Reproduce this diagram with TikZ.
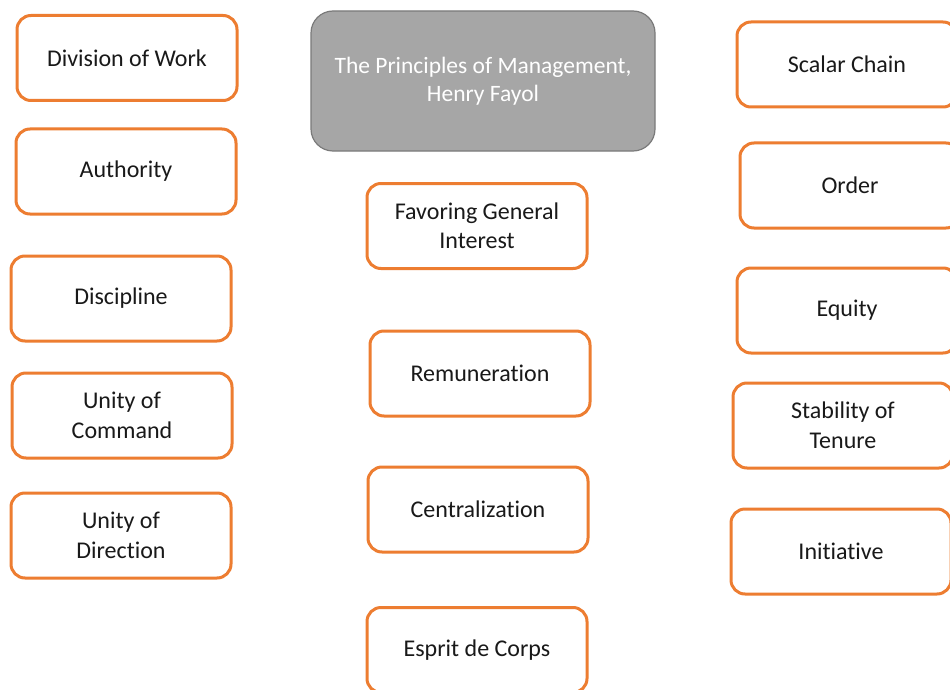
\documentclass[tikz,border=0pt]{standalone}
\usepackage{fontspec}
\setmainfont[Ligatures=NoCommon]{Carlito}
\definecolor{boxorange}{HTML}{ED7D31}
\definecolor{titlegray}{HTML}{A6A6A6}
\definecolor{titleline}{HTML}{7A7A7A}
\begin{document}
\begin{tikzpicture}[x=1pt,y=-1pt,
  principle/.style={draw=boxorange, line width=3pt, rounded corners=14pt, fill=white,
    minimum width=220pt, minimum height=85pt, inner sep=0pt, align=center, text={black!90},
    font=\fontsize{24}{29.5}\selectfont},
  titlebox/.style={draw=titleline, line width=1.2pt, rounded corners=22pt, fill=titlegray,
    minimum width=344pt, minimum height=140pt, inner sep=0pt, align=center, text=white,
    font=\fontsize{23.5}{28}\selectfont}]
\clip (0,0) rectangle (950,690);
\fill[white] (0,0) rectangle (950,690);
% left column
\node[principle] (div) at (127,58) {Division of Work};
\node[principle] (auth) at (126,171.5) {Authority};
\node[principle] (disc) at (121,298.5) {Discipline};
\node[principle] (uoc) at (122,415.5) {Unity of\\Command};
\node[principle] (uod) at (121,535.5) {Unity of\\Direction};
% centre column
\node[titlebox] (title) at (483,81) {The Principles of Management,\\Henry Fayol};
\node[principle] (fav) at (477,226) {Favoring General\\Interest};
\node[principle] (rem) at (480,373.5) {Remuneration};
\node[principle] (cen) at (478,509.5) {Centralization};
\node[principle] (esp) at (477,650) {Esprit de Corps};
% right column
\node[principle] (sca) at (847,64.5) {Scalar Chain};
\node[principle] (ord) at (850,185.5) {Order};
\node[principle] (equ) at (847,310.5) {Equity};
\node[principle] (sta) at (843,425.5) {Stability of\\Tenure};
\node[principle] (ini) at (841,551.5) {Initiative};
\end{tikzpicture}
\end{document}
